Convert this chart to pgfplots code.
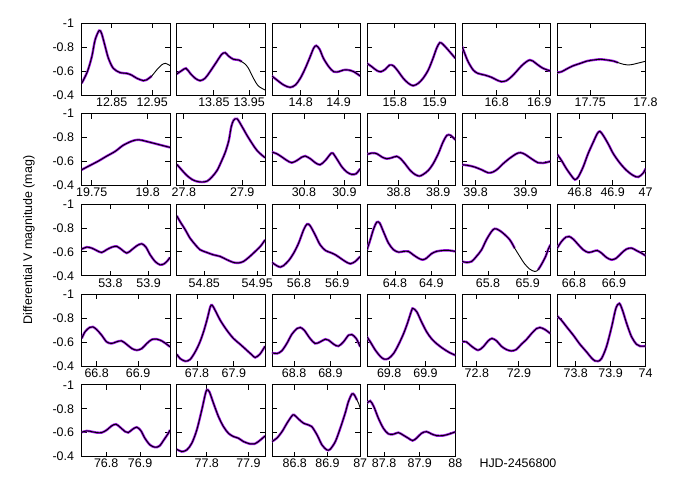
\documentclass[border=0pt]{standalone}
\usepackage{pgfplots}
\pgfplotsset{compat=1.18}
\usepackage{pgfplotstable}
\usepackage{fontspec}
\setmainfont{Liberation Sans}
\definecolor{dv}{RGB}{155,20,225}

\pgfplotsset{
 pan/.style={scale only axis, width=88.3bp, height=71.7bp, anchor=south west,
  ymin=-1, ymax=-0.4, y dir=reverse, ytick={-1,-0.8,-0.6,-0.4}, yticklabels={},
  tick align=inside, major tick length=5bp,
  axis line style={line width=0.8bp},
  every tick/.style={black, line width=0.8bp},
  tick label style={font=\fontsize{12.5}{14}\selectfont},
  xticklabel style={inner sep=0pt, yshift=-2.5bp},
  yticklabel style={inner sep=0pt, xshift=-7.5bp}},
 ylab/.style={yticklabels={-1,-0.8,-0.6,-0.4}},
 nolab/.style={},
}

\newcommand{\panel}[8]{%
\begin{axis}[pan,#1,at={(#2bp,#3bp)},xmin=#4,xmax=#5,xtick={#6},xticklabels={#6}]
\addplot[dv, line width=2.4bp, smooth, restrict x to domain=#8] table {#7};
\addplot[black, line width=0.9bp, smooth] table {#7};
\end{axis}}

\pgfplotstableread{
x y
12.776 -0.498
12.790 -0.595
12.801 -0.721
12.809 -0.860
12.819 -0.939
12.825 -0.916
12.834 -0.805
12.842 -0.707
12.854 -0.623
12.871 -0.587
12.887 -0.581
12.899 -0.567
12.912 -0.540
12.928 -0.520
12.936 -0.526
12.949 -0.559
12.961 -0.609
12.973 -0.651
12.983 -0.665
12.994 -0.646
}\dataA
\pgfplotstableread{
x y
13.745 -0.576
13.759 -0.604
13.771 -0.623
13.783 -0.581
13.797 -0.540
13.811 -0.520
13.825 -0.540
13.839 -0.595
13.858 -0.679
13.872 -0.740
13.882 -0.754
13.891 -0.727
13.905 -0.699
13.920 -0.693
13.929 -0.679
13.938 -0.660
13.948 -0.623
13.962 -0.540
13.976 -0.475
13.995 -0.442
}\dataB
\pgfplotstableread{
x y
14.724 -0.559
14.737 -0.526
14.755 -0.484
14.772 -0.464
14.786 -0.484
14.799 -0.540
14.812 -0.623
14.825 -0.721
14.834 -0.791
14.841 -0.813
14.850 -0.782
14.860 -0.707
14.874 -0.637
14.887 -0.595
14.900 -0.595
14.913 -0.609
14.926 -0.609
14.940 -0.595
14.957 -0.559
}\dataC
\pgfplotstableread{
x y
15.730 -0.665
15.742 -0.637
15.755 -0.604
15.765 -0.595
15.776 -0.615
15.787 -0.651
15.797 -0.643
15.809 -0.595
15.821 -0.540
15.834 -0.498
15.846 -0.478
15.859 -0.498
15.871 -0.540
15.884 -0.609
15.896 -0.707
15.905 -0.791
15.913 -0.838
15.921 -0.824
15.934 -0.777
15.952 -0.707
}\dataD
\pgfplotstableread{
x y
16.719 -0.805
16.725 -0.749
16.733 -0.679
16.745 -0.609
16.756 -0.581
16.772 -0.567
16.788 -0.548
16.800 -0.526
16.811 -0.512
16.823 -0.520
16.835 -0.554
16.846 -0.595
16.858 -0.643
16.870 -0.679
16.878 -0.693
16.885 -0.684
16.897 -0.651
16.909 -0.623
16.926 -0.601
}\dataE
\pgfplotstableread{
x y
17.720 -0.587
17.724 -0.595
17.728 -0.615
17.734 -0.643
17.741 -0.665
17.747 -0.684
17.753 -0.693
17.759 -0.699
17.765 -0.693
17.771 -0.684
17.775 -0.671
17.780 -0.657
17.784 -0.651
17.789 -0.657
17.795 -0.671
17.800 -0.682
}\dataF
\pgfplotstableread{
x y
19.741 -0.531
19.748 -0.565
19.756 -0.604
19.763 -0.643
19.771 -0.685
19.778 -0.735
19.786 -0.771
19.792 -0.782
19.799 -0.768
19.807 -0.749
19.814 -0.732
19.820 -0.718
}\dataG
\pgfplotstableread{
x y
27.788 -0.576
27.797 -0.526
27.805 -0.484
27.814 -0.450
27.822 -0.434
27.831 -0.428
27.840 -0.436
27.848 -0.470
27.857 -0.526
27.865 -0.609
27.871 -0.679
27.877 -0.777
27.881 -0.888
27.885 -0.944
27.891 -0.958
27.900 -0.888
27.908 -0.819
27.917 -0.749
27.925 -0.693
27.934 -0.651
27.939 -0.632
}\dataH
\pgfplotstableread{
x y
30.721 -0.679
30.733 -0.665
30.746 -0.637
30.758 -0.609
30.770 -0.590
30.783 -0.609
30.795 -0.637
30.803 -0.646
30.816 -0.623
30.828 -0.590
30.840 -0.573
30.853 -0.609
30.865 -0.660
30.871 -0.671
30.881 -0.623
30.894 -0.554
30.906 -0.512
30.918 -0.492
30.929 -0.498
30.939 -0.540
}\dataI
\pgfplotstableread{
x y
38.720 -0.660
38.733 -0.671
38.745 -0.665
38.758 -0.637
38.770 -0.623
38.783 -0.632
38.795 -0.643
38.805 -0.623
38.816 -0.581
38.829 -0.526
38.841 -0.492
38.852 -0.478
38.862 -0.492
38.875 -0.526
38.887 -0.581
38.900 -0.665
38.912 -0.763
38.922 -0.819
38.931 -0.819
38.943 -0.782
}\dataJ
\pgfplotstableread{
x y
39.773 -0.573
39.785 -0.567
39.798 -0.554
39.812 -0.531
39.825 -0.506
39.835 -0.512
39.845 -0.540
39.855 -0.581
39.869 -0.629
39.882 -0.665
39.890 -0.674
39.899 -0.660
39.912 -0.623
39.925 -0.590
39.935 -0.587
39.950 -0.601
}\dataK
\pgfplotstableread{
x y
46.731 -0.660
46.744 -0.609
46.759 -0.540
46.775 -0.478
46.785 -0.448
46.795 -0.470
46.810 -0.554
46.825 -0.665
46.841 -0.763
46.853 -0.833
46.861 -0.852
46.871 -0.819
46.886 -0.749
46.902 -0.665
46.922 -0.587
46.942 -0.526
46.962 -0.484
46.978 -0.470
46.993 -0.503
47.000 -0.540
}\dataL
\pgfplotstableread{
x y
53.725 -0.623
53.738 -0.640
53.751 -0.632
53.764 -0.612
53.777 -0.595
53.790 -0.618
53.804 -0.640
53.817 -0.646
53.830 -0.618
53.843 -0.590
53.856 -0.618
53.869 -0.651
53.882 -0.668
53.893 -0.640
53.904 -0.576
53.917 -0.520
53.930 -0.492
53.941 -0.501
53.950 -0.528
53.956 -0.554
}\dataM
\pgfplotstableread{
x y
54.798 -0.902
54.804 -0.855
54.814 -0.785
54.823 -0.715
54.833 -0.660
54.842 -0.618
54.855 -0.595
54.867 -0.576
54.880 -0.562
54.893 -0.534
54.905 -0.512
54.915 -0.508
54.924 -0.520
54.933 -0.550
54.943 -0.590
54.956 -0.646
54.965 -0.701
}\dataN
\pgfplotstableread{
x y
56.729 -0.512
56.742 -0.484
56.751 -0.473
56.759 -0.484
56.773 -0.528
56.786 -0.590
56.799 -0.674
56.812 -0.785
56.821 -0.833
56.829 -0.819
56.842 -0.743
56.855 -0.660
56.869 -0.612
56.882 -0.595
56.895 -0.576
56.908 -0.548
56.921 -0.520
56.934 -0.501
56.947 -0.520
56.960 -0.562
}\dataO
\pgfplotstableread{
x y
64.723 -0.618
64.732 -0.701
64.741 -0.791
64.750 -0.849
64.758 -0.841
64.768 -0.771
64.782 -0.674
64.796 -0.618
64.810 -0.598
64.823 -0.604
64.837 -0.604
64.850 -0.576
64.864 -0.548
64.876 -0.534
64.887 -0.548
64.900 -0.584
64.914 -0.604
64.932 -0.612
64.950 -0.612
64.966 -0.604
}\dataP
\pgfplotstableread{
x y
65.735 -0.520
65.746 -0.512
65.759 -0.520
65.771 -0.562
65.784 -0.618
65.796 -0.701
65.809 -0.771
65.817 -0.794
65.826 -0.785
65.838 -0.757
65.855 -0.701
65.867 -0.632
65.880 -0.562
65.892 -0.501
65.905 -0.456
65.918 -0.436
65.926 -0.450
65.934 -0.492
65.945 -0.562
65.951 -0.618
65.957 -0.660
}\dataQ
\pgfplotstableread{
x y
66.758 -0.632
66.769 -0.688
66.780 -0.724
66.788 -0.729
66.798 -0.707
66.811 -0.660
66.823 -0.618
66.836 -0.595
66.848 -0.604
66.858 -0.612
66.869 -0.590
66.881 -0.554
66.894 -0.534
66.906 -0.548
66.919 -0.590
66.931 -0.623
66.944 -0.632
66.956 -0.612
66.969 -0.590
66.979 -0.568
}\dataR
\pgfplotstableread{
x y
66.764 -0.632
66.772 -0.688
66.783 -0.724
66.791 -0.729
66.800 -0.707
66.812 -0.660
66.824 -0.604
66.836 -0.590
66.848 -0.604
66.860 -0.612
66.872 -0.584
66.885 -0.548
66.897 -0.534
66.909 -0.548
66.921 -0.590
66.933 -0.623
66.945 -0.626
66.957 -0.612
66.969 -0.584
66.977 -0.562
}\dataS
\pgfplotstableread{
x y
67.745 -0.500
67.754 -0.464
67.768 -0.442
67.781 -0.456
67.795 -0.520
67.808 -0.604
67.819 -0.701
67.828 -0.799
67.836 -0.897
67.841 -0.911
67.849 -0.869
67.863 -0.785
67.881 -0.701
67.899 -0.632
67.917 -0.584
67.935 -0.534
67.949 -0.495
67.958 -0.473
67.971 -0.501
67.985 -0.568
}\dataT
\pgfplotstableread{
x y
68.739 -0.512
68.753 -0.506
68.766 -0.528
68.780 -0.590
68.794 -0.668
68.808 -0.715
68.817 -0.724
68.828 -0.701
68.844 -0.632
68.858 -0.590
68.872 -0.604
68.886 -0.626
68.895 -0.618
68.909 -0.584
68.922 -0.568
68.936 -0.604
68.950 -0.660
68.959 -0.665
68.971 -0.632
68.982 -0.562
}\dataU
\pgfplotstableread{
x y
69.739 -0.646
69.748 -0.604
69.762 -0.534
69.775 -0.484
69.786 -0.459
69.798 -0.464
69.812 -0.506
69.825 -0.576
69.839 -0.668
69.850 -0.757
69.862 -0.869
69.866 -0.883
69.876 -0.855
69.889 -0.771
69.903 -0.688
69.916 -0.632
69.930 -0.590
69.948 -0.548
69.966 -0.514
69.982 -0.492
}\dataV
\pgfplotstableread{
x y
72.765 -0.604
72.775 -0.604
72.787 -0.568
72.803 -0.534
72.815 -0.562
72.827 -0.612
72.836 -0.632
72.847 -0.612
72.858 -0.568
72.870 -0.540
72.882 -0.528
72.894 -0.540
72.906 -0.584
72.918 -0.623
72.930 -0.673
72.942 -0.715
72.950 -0.724
72.962 -0.707
72.975 -0.673
}\dataW
\pgfplotstableread{
x y
73.747 -0.819
73.759 -0.785
73.774 -0.729
73.793 -0.660
73.812 -0.584
73.831 -0.520
73.845 -0.470
73.855 -0.445
73.864 -0.442
73.874 -0.464
73.888 -0.562
73.903 -0.729
73.915 -0.883
73.925 -0.925
73.934 -0.869
73.946 -0.757
73.960 -0.646
73.974 -0.584
73.984 -0.568
74.000 -0.568
}\dataX
\pgfplotstableread{
x y
76.728 -0.604
76.743 -0.615
76.757 -0.609
76.772 -0.601
76.787 -0.601
76.802 -0.623
76.816 -0.657
76.829 -0.671
76.841 -0.646
76.856 -0.609
76.865 -0.601
76.878 -0.629
76.890 -0.646
76.902 -0.618
76.914 -0.554
76.929 -0.498
76.944 -0.478
76.957 -0.489
76.970 -0.540
76.983 -0.595
76.988 -0.623
}\dataY
\pgfplotstableread{
x y
77.728 -0.461
77.740 -0.442
77.752 -0.456
77.764 -0.512
77.776 -0.623
77.788 -0.791
77.796 -0.916
77.800 -0.958
77.806 -0.944
77.816 -0.847
77.828 -0.735
77.840 -0.651
77.852 -0.595
77.864 -0.568
77.876 -0.554
77.888 -0.526
77.904 -0.506
77.914 -0.506
77.924 -0.526
77.940 -0.573
}\dataZ
\pgfplotstableread{
x y
86.730 -0.526
86.745 -0.554
86.761 -0.609
86.776 -0.679
86.791 -0.740
86.798 -0.749
86.812 -0.713
86.827 -0.679
86.842 -0.665
86.852 -0.651
86.868 -0.582
86.883 -0.498
86.898 -0.456
86.908 -0.461
86.924 -0.526
86.939 -0.637
86.954 -0.763
86.964 -0.860
86.975 -0.925
86.982 -0.916
86.990 -0.874
86.995 -0.847
87.000 -0.805
}\dataAA
\pgfplotstableread{
x y
87.752 -0.847
87.761 -0.866
87.771 -0.819
87.784 -0.721
87.798 -0.637
87.812 -0.590
87.826 -0.587
87.840 -0.601
87.854 -0.579
87.868 -0.554
87.880 -0.534
87.891 -0.554
87.905 -0.595
87.919 -0.609
87.933 -0.590
87.947 -0.576
87.966 -0.576
87.984 -0.590
88.000 -0.607
}\dataAB

\begin{document}
\begin{tikzpicture}
\path[use as bounding box] (0,0) rectangle (680bp,504bp);
% row 1
\panel{ylab}{81.7}{409}{12.776}{12.994}{12.85,12.95}{\dataA}{12.77:12.952}
\panel{nolab}{176.8}{409}{13.745}{13.995}{13.85,13.95}{\dataB}{13.74:13.93}
\panel{nolab}{271.9}{409}{14.724}{14.957}{14.8,14.9}{\dataC}{14.7:15.0}
\panel{nolab}{367.0}{409}{15.730}{15.952}{15.8,15.9}{\dataD}{15.7:16.0}
\panel{nolab}{462.1}{409}{16.719}{16.926}{16.8,16.9}{\dataE}{16.7:17.0}
\panel{nolab}{557.2}{409}{17.720}{17.800}{17.75,17.8}{\dataF}{17.7:17.776}
% row 2
\panel{ylab}{81.7}{318.6}{19.741}{19.820}{19.75,19.8}{\dataG}{19.7:19.9}
\panel{nolab}{176.8}{318.6}{27.788}{27.939}{27.8,27.9}{\dataH}{27.7:28.0}
\panel{nolab}{271.9}{318.6}{30.721}{30.939}{30.8,30.9}{\dataI}{30.7:31.0}
\panel{nolab}{367.0}{318.6}{38.720}{38.943}{38.8,38.9}{\dataJ}{38.7:39.0}
\panel{nolab}{462.1}{318.6}{39.773}{39.950}{39.8,39.9}{\dataK}{39.7:40.0}
\panel{nolab}{557.2}{318.6}{46.731}{47.000}{46.8,46.9,47}{\dataL}{46.7:47.1}
% row 3
\panel{ylab}{81.7}{228.2}{53.725}{53.956}{53.8,53.9}{\dataM}{53.7:54.0}
\panel{nolab}{176.8}{228.2}{54.798}{54.965}{54.85,54.95}{\dataN}{54.7:55.0}
\panel{nolab}{271.9}{228.2}{56.729}{56.960}{56.8,56.9}{\dataO}{56.7:57.0}
\panel{nolab}{367.0}{228.2}{64.723}{64.966}{64.8,64.9}{\dataP}{64.7:65.0}
\begin{axis}[pan,at={(462.1bp,228.2bp)},xmin=65.735,xmax=65.957,xtick={65.8,65.9},xticklabels={65.8,65.9}]
\addplot[dv, line width=2.4bp, smooth, restrict x to domain=65.7:65.868] table {\dataQ};
\addplot[dv, line width=2.4bp, smooth, restrict x to domain=65.925:66.0] table {\dataQ};
\addplot[black, line width=0.9bp, smooth] table {\dataQ};
\end{axis}
\panel{nolab}{557.2}{228.2}{66.758}{66.979}{66.8,66.9}{\dataR}{66.7:67.0}
% row 4
\panel{ylab}{81.7}{137.8}{66.764}{66.977}{66.8,66.9}{\dataS}{66.7:67.0}
\panel{nolab}{176.8}{137.8}{67.745}{67.985}{67.8,67.9}{\dataT}{67.7:68.0}
\panel{nolab}{271.9}{137.8}{68.739}{68.982}{68.8,68.9}{\dataU}{68.7:69.0}
\panel{nolab}{367.0}{137.8}{69.739}{69.982}{69.8,69.9}{\dataV}{69.7:70.0}
\panel{nolab}{462.1}{137.8}{72.765}{72.975}{72.8,72.9}{\dataW}{72.7:73.0}
\panel{nolab}{557.2}{137.8}{73.747}{74.000}{73.8,73.9,74}{\dataX}{73.7:74.1}
% row 5
\panel{ylab}{81.7}{47.4}{76.728}{76.988}{76.8,76.9}{\dataY}{76.7:77.0}
\panel{nolab}{176.8}{47.4}{77.728}{77.940}{77.8,77.9}{\dataZ}{77.7:78.0}
\panel{nolab}{271.9}{47.4}{86.730}{87.000}{86.8,86.9,87}{\dataAA}{86.7:86.992}
\panel{nolab}{367.0}{47.4}{87.752}{88.000}{87.8,87.9,88}{\dataAB}{87.7:88.1}
\node[rotate=90, font=\fontsize{12.5}{14}\selectfont] at (29bp,264bp) {Differential V magnitude (mag)};
\node[anchor=west, font=\fontsize{12.5}{14}\selectfont] at (476bp,41bp) {HJD-2456800};
\end{tikzpicture}
\end{document}
